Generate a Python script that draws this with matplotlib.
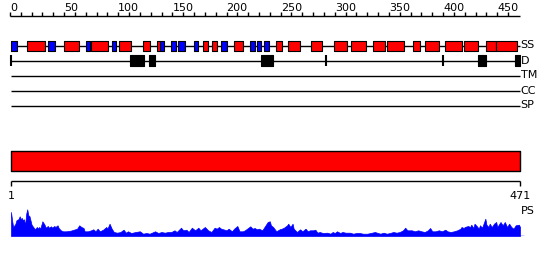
import matplotlib.pyplot as plt
import numpy as np

# sequence length
seq_len = 471

# secondary structure (SS): (start, end, type)  E = strand (blue), H = helix (red)
ss_start = [1, 16, 35, 50, 70, 75, 94, 101, 123, 136, 139, 149, 155, 170, 178, 187, 195, 207,
            222, 228, 235, 246, 257, 278, 299, 315, 335, 348, 372, 383, 402, 419, 440, 449]
ss_end = [7, 32, 42, 64, 74, 91, 98, 112, 129, 139, 142, 153, 162, 174, 183, 191, 200, 215,
          226, 232, 239, 251, 268, 288, 311, 329, 346, 364, 379, 396, 417, 432, 449, 468]
ss_type = ['E', 'H', 'E', 'H', 'E', 'H', 'E', 'H', 'H', 'H', 'E', 'E', 'E', 'E', 'H', 'H', 'E', 'H',
           'E', 'E', 'E', 'H', 'H', 'H', 'H', 'H', 'H', 'H', 'H', 'H', 'H', 'H', 'H', 'H']

# domain boundaries (D)
dom_start = [111, 128, 232, 432, 466]
dom_end = [124, 134, 243, 440, 471]
dom_marks = [1, 292, 400]

# PS profile (position, score)
ps_pos = [1, 2, 3, 5, 6, 8, 9, 10, 11, 12, 13, 14, 15, 16, 17, 18, 19, 20, 22, 23, 25, 26, 27, 28,
          30, 32, 33, 35, 36, 38, 39, 41, 42, 44, 45, 47, 49, 52, 56, 59, 62, 64, 66, 68, 69, 72,
          75, 77, 79, 81, 83, 86, 89, 90, 92, 94, 96, 99, 102, 105, 107, 109, 112, 116, 120, 123,
          126, 129, 134, 137, 140, 143, 146, 149, 152, 154, 158, 160, 163, 165, 168, 171, 174,
          176, 180, 183, 186, 189, 191, 193, 195, 197, 200, 202, 205, 207, 210, 212, 215, 217,
          222, 224, 226, 228, 230, 233, 235, 237, 238, 240, 241, 243, 246, 249, 251, 253, 256,
          257, 259, 261, 262, 265, 268, 270, 273, 275, 277, 280, 282, 284, 286, 289, 293, 296,
          298, 300, 302, 305, 307, 310, 314, 317, 320, 323, 326, 330, 333, 337, 339, 342, 345,
          348, 351, 354, 357, 360, 363, 365, 367, 371, 374, 377, 380, 383, 386, 388, 390, 393,
          396, 399, 402, 404, 407, 410, 413, 416, 417, 419, 420, 423, 425, 426, 428, 429, 431,
          433, 434, 436, 439, 440, 442, 443, 445, 447, 449, 450, 453, 455, 457, 459, 461, 463,
          465, 467, 470, 471]
ps_score = [24, 15.7, 9, 12, 15.7, 17, 19.7, 17, 18, 15.7, 16.7, 10.7, 22, 26.7, 20.7, 20, 15.7,
            11.3, 8.3, 6.7, 9, 7.3, 9, 7.3, 14.7, 11.3, 8.3, 10, 8.3, 9.7, 8.3, 10, 9, 10.7, 8,
            5.7, 4.7, 4.7, 5.3, 6.3, 7.3, 10.7, 9, 8, 4.7, 4.7, 5.7, 6.7, 4.7, 7.3, 4.7, 6.3, 9,
            7.3, 12.3, 7.3, 4, 3.3, 4, 6.3, 3.3, 4.7, 3, 4, 4.7, 2.3, 3, 2.3, 4.7, 3, 4, 3.3, 4,
            4, 5.7, 4, 8.3, 5.7, 6.3, 4, 8.3, 5.7, 8.3, 5.7, 9, 5.7, 4, 8.3, 7.3, 9, 7.3, 6.7,
            5.7, 7.3, 4.7, 7.3, 10, 4.7, 4.7, 5.7, 9.7, 7.3, 8, 6.7, 7.3, 5.7, 9, 12.3, 14, 14.7,
            10.7, 9, 4.7, 6.7, 7.3, 8.3, 10.7, 12.3, 9, 12.3, 7.3, 4, 6.7, 4.7, 7.3, 4.7, 5.7,
            5.7, 6.3, 3.3, 4, 3, 3.3, 2.3, 4, 3, 4.7, 3, 4, 3.3, 3.3, 2.3, 3, 3, 2.3, 2.3, 3, 4,
            3.3, 2.3, 3.3, 2.3, 3, 4, 3.3, 4, 5.7, 8.3, 5.7, 5.7, 4.7, 5.7, 4.7, 4, 5.7, 8, 4.7,
            4.7, 5.7, 4.7, 6.3, 4.7, 4, 4.7, 5.7, 7.3, 9, 8, 9, 10, 9, 11.3, 8, 12.3, 10, 7.3,
            10.7, 8.3, 17.3, 11.3, 9, 12.3, 9, 12.3, 14, 9, 14, 10.7, 14, 9, 12.3, 9, 7.3, 10.7,
            11.3, 9]

major_ticks = np.arange(0, 451, 50)
minor_ticks = np.arange(0, 461, 10)

track_names = ['SS', 'D', 'TM', 'CC', 'SP']
track_y = [45.5, 60.5, 75.5, 90.5, 105.5]

ss_colors = {'E': '#0000ff', 'H': '#ff0000'}

fig = plt.figure(figsize=(5.5, 2.6), dpi=100)
ax = fig.add_axes([0, 0, 1, 1])
ax.set_xlim(-9.157, 498.7)
ax.set_ylim(260, 0)
ax.axis('off')

# top ruler
ax.hlines(15.5, 0, seq_len, color='black', lw=1)
ax.vlines(minor_ticks, 12, 15.5, color='black', lw=1)
for t in major_ticks:
    ax.text(t, 13, str(t), fontsize=8, ha='left', va='bottom', family='DejaVu Sans')

# track lines and labels
for name, y in zip(track_names, track_y):
    ax.hlines(y, 1, seq_len, color='black', lw=1, zorder=1)
    ax.text(seq_len + 0.5, y, name, fontsize=8, ha='left', va='center', family='DejaVu Sans')

# SS boxes
ss_bars = [(s, e - s) for s, e in zip(ss_start, ss_end)]
ax.broken_barh(ss_bars, (40.5, 10), facecolors=[ss_colors[t] for t in ss_type],
               edgecolor='black', linewidth=0.8, zorder=2)

# domains
dom_bars = [(s, e - s) for s, e in zip(dom_start, dom_end)]
ax.broken_barh(dom_bars, (55, 11), facecolors='black', edgecolor='black', linewidth=0.8, zorder=2)
ax.vlines(dom_marks, 55, 66, color='black', lw=1.5, zorder=2)

# full-length bar
ax.broken_barh([(1, seq_len - 1)], (150.5, 20), facecolors='#ff0000', edgecolor='black',
               linewidth=1, zorder=2)

# bottom ruler
ax.hlines(181, 1, seq_len, color='black', lw=1)
ax.vlines([1, seq_len], 181, 185.5, color='black', lw=1)
ax.text(1, 196, '1', fontsize=8, ha='center', va='center', family='DejaVu Sans')
ax.text(seq_len, 196, str(seq_len), fontsize=8, ha='center', va='center', family='DejaVu Sans')
ax.text(seq_len + 1, 211, 'PS', fontsize=8, ha='left', va='center', family='DejaVu Sans')

# PS profile
ax2 = fig.add_axes([0, (260 - 236) / 260, 1, 30 / 260])
ax2.set_xlim(ax.get_xlim())
ax2.set_ylim(0, 30)
ax2.axis('off')
ax2.fill_between(ps_pos, 0, ps_score, color='#0000ff', lw=0.5)
ax2.hlines(0.3, 1, seq_len + 4, color='#0000ff', lw=1)

fig.savefig('out.png', dpi=100)
